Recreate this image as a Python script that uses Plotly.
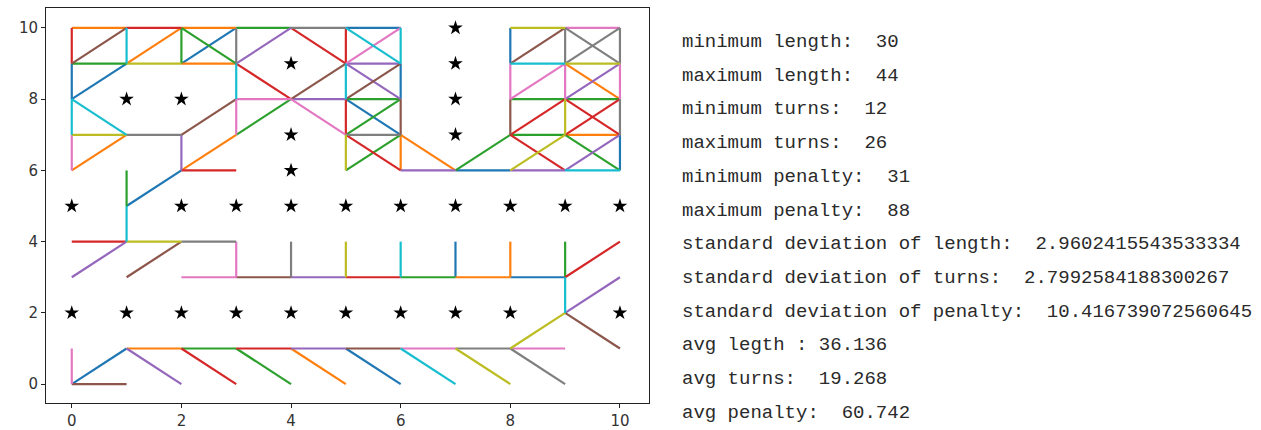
import plotly.graph_objects as go

# ---- data: segments grouped by colour (x0, y0, x1, y1) ----
blue_segments = [(2, 9, 3, 10), (0, 9, 0, 8), (0, 8, 1, 9), (1, 5, 2, 6), (5, 10, 6, 10),
                 (6, 9, 6, 8), (5, 8, 6, 7), (7, 6, 8, 6), (10, 7, 10, 6), (8, 10, 8, 9),
                 (0, 0, 1, 1), (5, 1, 6, 0), (7, 4, 7, 3), (8, 3, 9, 3)]
orange_segments = [(0, 10, 1, 10), (1, 9, 2, 10), (2, 10, 3, 10), (2, 9, 3, 9), (0, 6, 1, 7),
                   (2, 6, 3, 7), (6, 7, 6, 6), (6, 7, 7, 6), (9, 7, 10, 7), (9, 9, 10, 8),
                   (1, 1, 2, 1), (4, 1, 5, 0), (7, 3, 8, 3), (8, 4, 8, 3)]
green_segments = [(0, 9, 1, 9), (2, 10, 2, 9), (2, 10, 3, 9), (3, 10, 4, 10), (1, 6, 1, 5),
                  (3, 7, 4, 8), (5, 8, 6, 8), (5, 7, 6, 8), (5, 6, 6, 7), (7, 6, 8, 7),
                  (9, 7, 10, 6), (8, 7, 9, 7), (8, 8, 9, 8), (9, 8, 10, 8), (2, 1, 3, 1),
                  (3, 1, 4, 0), (6, 3, 7, 3), (9, 4, 9, 3)]
red_segments = [(0, 10, 0, 9), (1, 10, 2, 10), (2, 6, 3, 6), (3, 9, 4, 8), (4, 10, 5, 9),
                (5, 10, 5, 9), (5, 8, 5, 7), (5, 7, 6, 6), (8, 7, 9, 6), (8, 7, 9, 8),
                (9, 7, 10, 8), (9, 8, 10, 7), (0, 4, 1, 4), (2, 1, 3, 0), (3, 1, 4, 1),
                (5, 3, 6, 3), (9, 3, 10, 4)]
purple_segments = [(2, 7, 2, 6), (3, 9, 4, 10), (4, 8, 5, 8), (5, 9, 6, 9), (5, 9, 6, 8),
                   (6, 6, 7, 6), (8, 6, 9, 6), (9, 6, 10, 7), (9, 8, 10, 9), (0, 3, 1, 4),
                   (1, 1, 2, 0), (4, 3, 5, 3), (4, 1, 5, 1), (9, 2, 10, 3)]
brown_segments = [(0, 9, 1, 10), (2, 7, 3, 8), (4, 8, 5, 9), (5, 8, 6, 9), (6, 8, 6, 7),
                  (8, 8, 8, 7), (8, 9, 9, 10), (1, 3, 2, 4), (3, 3, 4, 3), (0, 0, 1, 0),
                  (5, 1, 6, 1), (9, 2, 10, 1)]
pink_segments = [(0, 7, 0, 6), (3, 8, 4, 8), (3, 8, 3, 7), (4, 8, 5, 7), (5, 9, 6, 10),
                 (8, 8, 9, 9), (8, 9, 8, 8), (9, 9, 9, 8), (10, 9, 10, 8), (9, 10, 10, 10),
                 (3, 4, 3, 3), (2, 3, 3, 3), (0, 1, 0, 0), (6, 1, 7, 1), (8, 1, 9, 1)]
gray_segments = [(3, 10, 3, 9), (4, 10, 5, 10), (1, 7, 2, 7), (5, 7, 6, 7), (10, 8, 10, 7),
                 (9, 10, 9, 9), (9, 10, 10, 9), (9, 9, 10, 10), (10, 10, 10, 9), (2, 4, 3, 4),
                 (4, 4, 4, 3), (7, 1, 8, 1), (8, 1, 9, 0)]
olive_segments = [(1, 9, 2, 9), (0, 7, 1, 7), (5, 7, 5, 6), (8, 6, 9, 7), (9, 8, 9, 7),
                  (9, 9, 10, 9), (8, 10, 9, 10), (1, 4, 2, 4), (5, 4, 5, 3), (7, 1, 8, 0),
                  (8, 1, 9, 2)]
cyan_segments = [(1, 10, 1, 9), (0, 8, 0, 7), (0, 8, 1, 7), (1, 5, 1, 4), (3, 9, 3, 8),
                 (5, 10, 6, 9), (6, 10, 6, 9), (5, 9, 5, 8), (9, 6, 10, 6), (8, 9, 9, 9),
                 (6, 4, 6, 3), (6, 1, 7, 0), (9, 3, 9, 2)]

# obstacle stars
star_x = [7, 4, 7, 1, 2, 7, 4, 7, 4,
          0, 2, 3, 4, 5, 6, 7, 8, 9, 10,
          0, 1, 2, 3, 4, 5, 6, 7, 8, 10]
star_y = [10, 9, 9, 8, 8, 8, 7, 7, 6,
          5, 5, 5, 5, 5, 5, 5, 5, 5, 5,
          2, 2, 2, 2, 2, 2, 2, 2, 2, 2]

tick_values = [0, 2, 4, 6, 8, 10]

# printed statistics
stat_lines = [
    "minimum length:  30",
    "maximum length:  44",
    "minimum turns:  12",
    "maximum turns:  26",
    "minimum penalty:  31",
    "maximum penalty:  88",
    "standard deviation of length:  2.9602415543533334",
    "standard deviation of turns:  2.7992584188300267",
    "standard deviation of penalty:  10.416739072560645",
    "avg legth : 36.136",
    "avg turns:  19.268",
    "avg penalty:  60.742",
]

# ---- styling ----
groups = [
    (blue_segments, "#1f77b4"), (orange_segments, "#ff7f0e"), (green_segments, "#2ca02c"),
    (red_segments, "#d62728"), (purple_segments, "#9467bd"), (brown_segments, "#8c564b"),
    (pink_segments, "#e377c2"), (gray_segments, "#7f7f7f"), (olive_segments, "#bcbd22"),
    (cyan_segments, "#17becf"),
]

fig = go.Figure()
for segs, col in groups:
    xs, ys = [], []
    for x0, y0, x1, y1 in segs:
        xs += [x0, x1, None]
        ys += [y0, y1, None]
    fig.add_trace(go.Scatter(x=xs, y=ys, mode="lines", line=dict(color=col, width=2.2),
                             hoverinfo="skip", showlegend=False))

fig.add_trace(go.Scatter(x=star_x, y=star_y, mode="markers",
                         marker=dict(symbol="star", size=11, color="black"),
                         showlegend=False))

L, R, T, B = 46, 649, 8, 403
W, H = 1261, 430
pw, ph = R - L, B - T

for i, line in enumerate(stat_lines):
    py = 42 + 33.7 * i
    fig.add_annotation(x=(680 - L) / pw, y=(B - py) / ph, xref="paper", yref="paper",
                       text=line, showarrow=False, xanchor="left", yanchor="middle",
                       font=dict(family="Liberation Mono, DejaVu Sans Mono, monospace",
                                 size=19, color="#2a2a2a"))

axis_common = dict(showgrid=False, zeroline=False, showline=True, mirror=True,
                   linecolor="#222", linewidth=1, ticks="outside", ticklen=4,
                   tickcolor="#222", tickvals=tick_values, automargin=False,
                   tickfont=dict(family="DejaVu Sans", size=15, color="#333"))

fig.update_layout(
    width=W, height=H, autosize=False,
    margin=dict(l=L, r=W - R, t=T, b=H - B, autoexpand=False),
    paper_bgcolor="white", plot_bgcolor="white",
    xaxis=dict(range=[-0.47, 10.53], **axis_common),
    yaxis=dict(range=[-0.53, 10.56], **axis_common),
)

fig.write_html("out.html", config={"displayModeBar": False},
               post_script="document.body.style.margin='0';document.body.style.overflow='hidden';")
